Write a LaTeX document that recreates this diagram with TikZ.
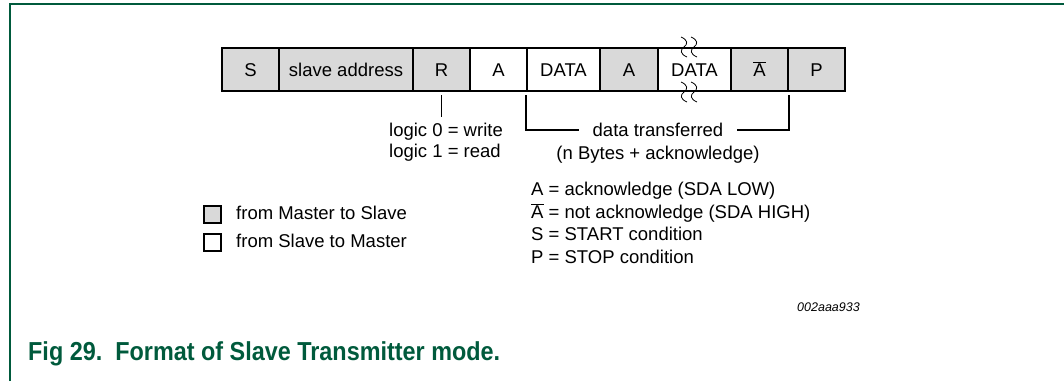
\documentclass[tikz,border=0pt]{standalone}
\usepackage{fontspec}
\setmainfont{Liberation Sans}
\newfontfamily\capfont[FakeStretch=0.9]{Liberation Sans}
\usetikzlibrary{matrix}
\definecolor{figgreen}{RGB}{0,90,60}
\definecolor{boxgray}{RGB}{217,217,217}

\begin{document}
\begin{tikzpicture}[x=1pt, y=-1pt,
  every node/.style={font=\fontsize{18.5pt}{22pt}\selectfont},
  bit/.style={draw, line width=2pt, minimum height=43pt, inner sep=0pt, text height=13.2pt, text depth=0pt},
  ms/.style={bit, fill=boxgray},
  sm/.style={bit, fill=white},
  lbl/.style={inner sep=0pt, text height=13.2pt, text depth=0pt},
  key/.style={draw, line width=2pt, minimum size=17pt, inner sep=0pt}]
\useasboundingbox (0,0) rectangle (1064,381);
\draw[figgreen, line width=1.5pt] (10,381) -- (10,4) -- (1064,4);

\matrix (m) [column sep=-2pt, inner sep=0pt] at (533.5,69.5) {
\node[ms, minimum width=57pt](s){S}; & \node[ms, minimum width=134pt](addr){slave address}; & \node[ms, minimum width=57pt](r){R}; & \node[sm, minimum width=57pt](a1){A}; & \node[sm, minimum width=73pt](d1){DATA}; & \node[ms, minimum width=58pt](a2){A}; & \node[sm, minimum width=73pt](d2){DATA}; & \node[ms, minimum width=57pt](na){$\overline{\hbox{A}}$}; & \node[ms, minimum width=57pt](p){P}; \\
};
% break marks on the repeated byte
\foreach \x in {684,694}
  \foreach \y in {37,82}
    \draw[line width=0.8pt] (\x-3,\y) .. controls (\x+4,\y+3) and (\x+4,\y+7) .. (\x,\y+10) .. controls (\x-4,\y+13) and (\x-4,\y+17) .. (\x+3,\y+20);

\node[lbl, anchor=west](l0) at (389,130){logic 0 = write};
\node[lbl, anchor=west](l1) at (389,151){logic 1 = read};
\coordinate (rend) at (441.5,117);
\draw[line width=1pt] ([yshift=-3pt]r.south) -- (rend);

\node[lbl, inner xsep=13.5pt](dt) at (658,130){data transferred};
\node[lbl](nb) at (658,153){(n Bytes + acknowledge)};
\draw[line width=2pt] ([yshift=-3pt]d1.south west) |- (dt.west);
\draw[line width=2pt] ([yshift=-3pt]na.south east) |- (dt.east);

\node[lbl, anchor=west](ka) at (531,189){A = acknowledge (SDA LOW)};
\node[lbl, anchor=west](kna) at (531,211.5){$\overline{\hbox{A}}$ = not acknowledge (SDA HIGH)};
\node[lbl, anchor=west](ks) at (531,234){S = START condition};
\node[lbl, anchor=west](kp) at (531,257){P = STOP condition};

\node[key, fill=boxgray](gbox) at (212.5,214){};
\node[key, fill=white](wbox) at (212.5,242){};
\node[lbl, anchor=west](mts) at (236,213){from Master to Slave};
\node[lbl, anchor=west](stm) at (236,241){from Slave to Master};

\node[lbl, anchor=east, text height=9pt, font=\fontsize{12.5pt}{15pt}\selectfont\itshape](code) at (860,307){002aaa933};
\node[lbl, anchor=west, text height=18.6pt, text=figgreen, font=\capfont\fontsize{26pt}{30pt}\selectfont\bfseries](cap) at (28,351){Fig 29.\ \ Format of Slave Transmitter mode.};
\end{tikzpicture}
\end{document}
